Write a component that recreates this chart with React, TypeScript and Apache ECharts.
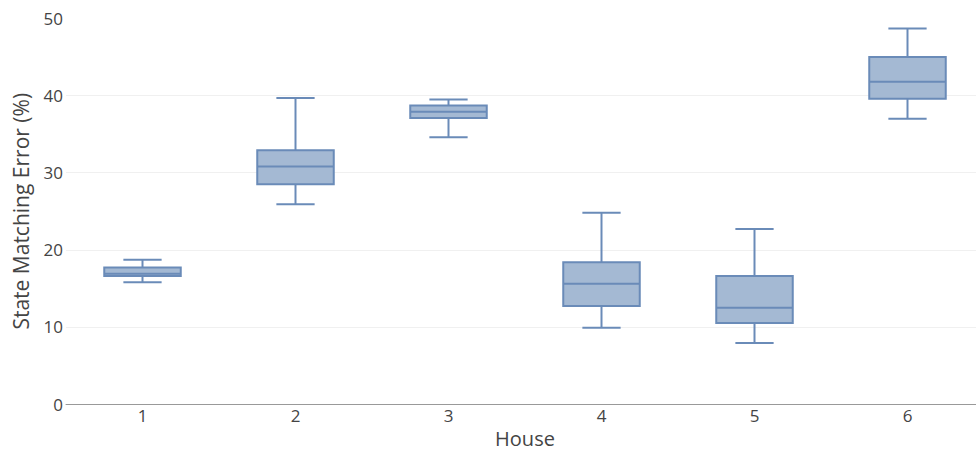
import React, { useEffect, useRef } from "react";
import * as echarts from "echarts";

// Houses on the category axis
const houses = ["1", "2", "3", "4", "5", "6"];
// Box statistics per house (state matching error, %)
const whiskerLow = [15.8, 25.9, 34.6, 9.9, 7.9, 37.0];
const quartile1 = [16.6, 28.5, 37.1, 12.7, 10.5, 39.6];
const medians = [16.9, 30.8, 37.9, 15.6, 12.5, 41.8];
const quartile3 = [17.7, 32.9, 38.7, 18.4, 16.6, 45.0];
const whiskerHigh = [18.7, 39.7, 39.5, 24.8, 22.7, 48.7];
// Value-axis ticks
const yTicks = [0, 10, 20, 30, 40, 50];

const LINE = "#6a8bb8";
const FILL = "#a4b9d3";
const TEXT = "#444";
const FONT = "'Open Sans', 'Noto Sans', sans-serif";

export default function App() {
  const ref = useRef<HTMLDivElement>(null);

  useEffect(() => {
    if (!ref.current) return;
    const chart = echarts.init(ref.current, null, { renderer: "svg" });

    const data = houses.map((_, i) => [
      i,
      whiskerLow[i],
      quartile1[i],
      medians[i],
      quartile3[i],
      whiskerHigh[i],
    ]);

    const renderItem = (params: any, api: any) => {
      const idx = api.value(0);
      const band = api.size([1, 0])[0];
      const boxW = band * 0.5;
      const whiskW = boxW * 0.5;
      const pLow = api.coord([idx, api.value(1)]);
      const pQ1 = api.coord([idx, api.value(2)]);
      const pMed = api.coord([idx, api.value(3)]);
      const pQ3 = api.coord([idx, api.value(4)]);
      const pHigh = api.coord([idx, api.value(5)]);
      const cx = pMed[0];
      const lineStyle = { stroke: LINE, lineWidth: 2, fill: null };
      return {
        type: "group",
        children: [
          {
            type: "line",
            shape: { x1: cx, y1: pQ3[1], x2: cx, y2: pHigh[1] },
            style: lineStyle,
          },
          {
            type: "line",
            shape: { x1: cx, y1: pQ1[1], x2: cx, y2: pLow[1] },
            style: lineStyle,
          },
          {
            type: "line",
            shape: { x1: cx - whiskW / 2, y1: pHigh[1], x2: cx + whiskW / 2, y2: pHigh[1] },
            style: lineStyle,
          },
          {
            type: "line",
            shape: { x1: cx - whiskW / 2, y1: pLow[1], x2: cx + whiskW / 2, y2: pLow[1] },
            style: lineStyle,
          },
          {
            type: "rect",
            shape: { x: cx - boxW / 2, y: pQ3[1], width: boxW, height: pQ1[1] - pQ3[1] },
            style: { fill: FILL, stroke: LINE, lineWidth: 2 },
          },
          {
            type: "line",
            shape: { x1: cx - boxW / 2, y1: pMed[1], x2: cx + boxW / 2, y2: pMed[1] },
            style: lineStyle,
          },
        ],
      };
    };

    chart.setOption({
      animation: false,
      backgroundColor: "#fff",
      textStyle: { fontFamily: FONT },
      grid: { left: 66, right: -8, top: 18.5, bottom: 47, outerBoundsMode: "none", containLabel: false },
      xAxis: {
        type: "category",
        data: houses,
        name: "House",
        nameLocation: "middle",
        nameGap: 34,
        nameTextStyle: {
          color: TEXT,
          fontSize: 20,
          lineHeight: 20,
          verticalAlign: "middle",
          fontFamily: FONT,
        },
        axisLine: { show: true, lineStyle: { color: "#999", width: 1 } },
        axisTick: { show: false },
        axisLabel: { color: TEXT, fontSize: 17, margin: 3, fontFamily: FONT },
        splitLine: { show: false },
      },
      yAxis: {
        type: "value",
        min: yTicks[0],
        max: yTicks[yTicks.length - 1],
        interval: 10,
        name: "State Matching Error (%)",
        nameLocation: "middle",
        nameGap: 35,
        nameTextStyle: { color: TEXT, fontSize: 21, fontFamily: FONT },
        axisLine: { show: false },
        axisTick: { show: false },
        axisLabel: { color: TEXT, fontSize: 17, margin: 3, fontFamily: FONT },
        splitLine: {
          show: true,
          showMinLine: false,
          showMaxLine: false,
          lineStyle: { color: "#f0f0f0", width: 1 },
        },
      },
      series: [
        {
          type: "custom",
          renderItem,
          data,
          encode: { x: 0, y: [1, 2, 3, 4, 5] },
          clip: false,
        },
      ],
    });

    return () => chart.dispose();
  }, []);

  return <div ref={ref} style={{ width: 976, height: 451, position: "absolute", left: 0, top: 0 }} />;
}
